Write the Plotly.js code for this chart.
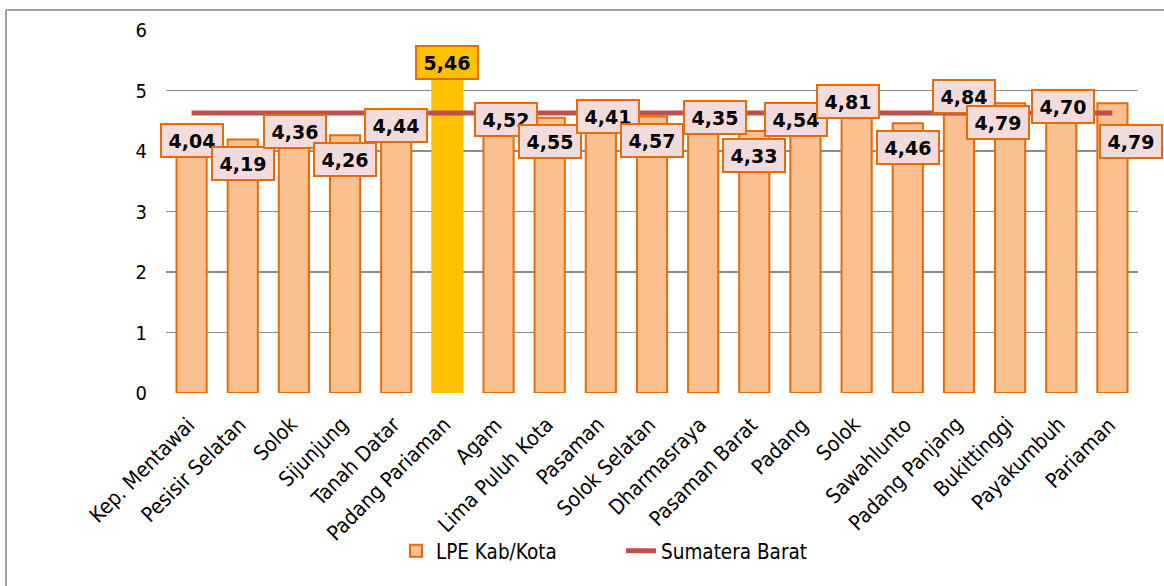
<!DOCTYPE html>
<html>
<head>
<meta charset="utf-8">
<script src="https://cdn.plot.ly/plotly-3.0.1.min.js"></script>
<style>
html,body{margin:0;padding:0;background:#fff;}
#chart{width:1164px;height:586px;}
</style>
</head>
<body>
<div id="chart"></div>
<script>
const categories = ['Kep. Mentawai','Pesisir Selatan','Solok','Sijunjung','Tanah Datar','Padang Pariaman','Agam','Lima Puluh Kota','Pasaman','Solok Selatan','Dharmasraya','Pasaman Barat','Padang','Solok','Sawahlunto','Padang Panjang','Bukittinggi','Payakumbuh','Pariaman'];
const lpeValues = [4.04,4.19,4.36,4.26,4.44,5.46,4.52,4.55,4.41,4.57,4.35,4.33,4.54,4.81,4.46,4.84,4.79,4.70,4.79];
const sumbarValues = [4.63,4.63,4.63,4.63,4.63,4.63,4.63,4.63,4.63,4.63,4.63,4.63,4.63,4.63,4.63,4.63,4.63,4.63,4.63];
const highlightName = 'Padang Pariaman';
const seriesNames = ['LPE Kab/Kota','Sumatera Barat'];
const yTicks = [0,1,2,3,4,5,6];

// label placement offsets (px) - styling only
const labelDx = [0,0,1,0,0,0,7,0,7,0,12,0,-9,-9,0,5,-12,2,19];
const labelDy = [8,-24,-2,-24,-1,0,0,-24,10,-24,12,-24,-1,1,-24,4,-19,2,-38];

const xIdx = categories.map((c,i)=>i);
const ORANGE = '#E46C0A', BAR = '#FAC090', GOLD = '#FFC000';
const barColors = categories.map(c => c===highlightName ? GOLD : BAR);
const barLines = categories.map(c => c===highlightName ? GOLD : ORANGE);
const fmt = v => v.toFixed(2).replace('.', ',');

const FONT = 'DejaVu Sans Condensed, DejaVu Sans, sans-serif';

const traces = [
  {type:'bar', x:xIdx, y:lpeValues, name:seriesNames[0], width:0.59,
   marker:{color:barColors, line:{color:barLines, width:2}}, hoverinfo:'skip'},
  {type:'scatter', mode:'lines', x:xIdx, y:sumbarValues, name:seriesNames[1],
   line:{color:'#C0504D', width:5}, hoverinfo:'skip'}
];

const annotations = [];
lpeValues.forEach((v,i)=>{
  annotations.push({x:i, y:v, xref:'x', yref:'y', text:'<b>'+fmt(v)+'</b>', showarrow:false,
    xshift:labelDx[i], yshift:labelDy[i], width:56, height:27, borderpad:2,
    bgcolor: categories[i]===highlightName ? GOLD : '#F2DCDB', bordercolor:ORANGE, borderwidth:2,
    font:{family:'DejaVu Sans, sans-serif', size:19, color:'#000'}, xanchor:'center', yanchor:'middle'});
});
categories.forEach((c,i)=>{
  annotations.push({x:i, y:0, xref:'x', yref:'y', text:c, showarrow:false, textangle:-45,
    xanchor:'right', yanchor:'top', xshift:11, yshift:-17,
    font:{family:FONT, size:21, color:'#000'}});
});

const layout = {
  width:1164, height:586,
  margin:{l:166, r:26, t:30, b:193},
  paper_bgcolor:'#fff', plot_bgcolor:'#fff',
  showlegend:true,
  bargap:0.41,
  xaxis:{range:[-0.5,18.5], tickvals:xIdx, showticklabels:false, showgrid:false, zeroline:false, showline:false, ticks:''},
  yaxis:{range:[0,6], tickvals:yTicks, ticktext:yTicks.map(String), showgrid:true, gridcolor:'#8C8C8C', gridwidth:1.5,
    zeroline:false, showline:false, ticks:'', ticklabelstandoff:18,
    tickfont:{family:FONT, size:20, color:'#000'}},
  legend:{orientation:'h', x:0.2366, xanchor:'left', y:-0.435, yanchor:'middle',
    font:{family:FONT, size:20.5, color:'#000'}, entrywidth:180, bgcolor:'rgba(0,0,0,0)'},
  annotations:annotations,
  shapes:[
    {type:'line', xref:'paper', yref:'paper', x0:-0.1646, x1:1.03, y0:1.0551, y1:1.0551, line:{color:'#A0A0A0', width:2}},
    {type:'line', xref:'paper', yref:'paper', x0:-0.1646, x1:-0.1646, y0:1.0551, y1:-0.54, line:{color:'#A0A0A0', width:2}}
  ]
};

Plotly.newPlot('chart', traces, layout, {staticPlot:true, displayModeBar:false});
</script>
</body>
</html>
